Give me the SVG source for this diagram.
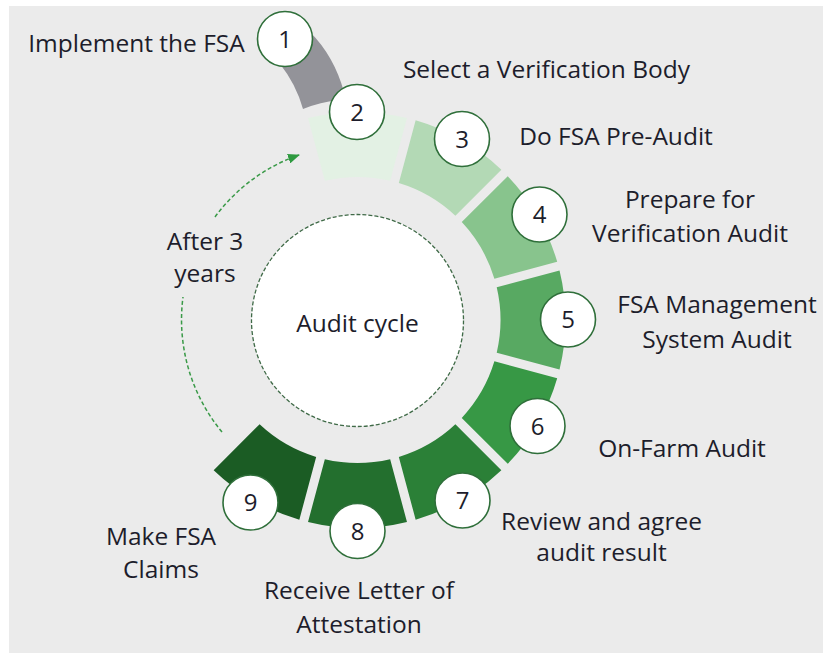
<svg xmlns="http://www.w3.org/2000/svg" width="823" height="653" viewBox="0 0 823 653">
<defs>
<style>
.lbl{font-family:"Open Sans","Noto Sans","DejaVu Sans",sans-serif;font-size:24.5px;fill:#1d1d2b;text-anchor:middle}
.num{font-family:"Open Sans","Noto Sans","DejaVu Sans",sans-serif;font-size:24px;fill:#1d1d2b;text-anchor:middle}
.badge{fill:#ffffff;stroke:#2f6f3a;stroke-width:1.6}
.arc{fill:none;stroke:#3a9a48;stroke-width:1.5;stroke-dasharray:4 2.5}
</style>
<marker id="ah" viewBox="0 0 12 10" refX="11" refY="5" markerWidth="12" markerHeight="10" markerUnits="userSpaceOnUse" orient="auto">
<path d="M0,0 L12,5 L0,10 Z" fill="#2e9a40"/>
</marker>
</defs>
<rect x="0" y="0" width="823" height="653" fill="#ffffff"/>
<rect x="9" y="6" width="814" height="647" fill="#ebebeb"/>

<g id="connectors">
<path class="arc" d="M222,432 A176,176 0 0 1 183,297"/>
<path class="arc" d="M215,217 A176,176 0 0 1 299,155" marker-end="url(#ah)"/>
</g>

<g id="center">
<circle cx="357.5" cy="320.5" r="106" fill="#ffffff" stroke="#3f6a47" stroke-width="1.3" stroke-dasharray="4 2"/>
<text class="lbl" x="357.5" y="332">Audit cycle</text>
</g>

<g id="step1">
<path d="M290,40 L310,32 Q334,56 344,92 L340,100 Q320,102 303,109 Q296,84 280,64 Z" fill="#939399"/>
<circle class="badge" cx="285" cy="39" r="27.5"/>
<text class="num" x="285" y="47.5">1</text>
<text class="lbl" x="136.5" y="52">Implement the FSA</text>
</g>

<g id="step2">
<path d="M308.02,117.97 A208,208 0 0 1 406.98,117.97 L390.16,180.78 A143,143 0 0 0 324.84,180.78 Z" fill="#e3f1e4"/>
<circle class="badge" cx="357" cy="112" r="27.5"/>
<text class="num" x="357" y="120.5">2</text>
<text class="lbl" x="546.5" y="78">Select a Verification Body</text>
</g>

<g id="step3">
<path d="M415.66,120.30 A208,208 0 0 1 501.35,169.76 L455.38,215.75 A143,143 0 0 0 398.83,183.11 Z" fill="#b3d9b5"/>
<circle class="badge" cx="462" cy="139" r="27.5"/>
<text class="num" x="462" y="147.5">3</text>
<text class="lbl" x="616" y="145">Do FSA Pre-Audit</text>
</g>

<g id="step4">
<path d="M507.74,176.15 A208,208 0 0 1 557.20,261.84 L494.39,278.67 A143,143 0 0 0 461.75,222.12 Z" fill="#88c48d"/>
<circle class="badge" cx="539.5" cy="214.5" r="27.5"/>
<text class="num" x="539.5" y="223">4</text>
<text class="lbl" x="690" y="208">Prepare for</text>
<text class="lbl" x="690" y="242">Verification Audit</text>
</g>

<g id="step5">
<path d="M559.53,270.52 A208,208 0 0 1 559.53,369.48 L496.72,352.66 A143,143 0 0 0 496.72,287.34 Z" fill="#58a962"/>
<circle class="badge" cx="568" cy="319.5" r="27.5"/>
<text class="num" x="568" y="328">5</text>
<text class="lbl" x="717" y="313">FSA Management</text>
<text class="lbl" x="717" y="348">System Audit</text>
</g>

<g id="step6">
<path d="M557.20,378.16 A208,208 0 0 1 507.74,463.85 L461.75,417.88 A143,143 0 0 0 494.39,361.33 Z" fill="#379845"/>
<circle class="badge" cx="537.5" cy="426" r="27.5"/>
<text class="num" x="537.5" y="434.5">6</text>
<text class="lbl" x="682" y="457">On-Farm Audit</text>
</g>

<g id="step7">
<path d="M501.35,470.24 A208,208 0 0 1 415.66,519.70 L398.83,456.89 A143,143 0 0 0 455.38,424.25 Z" fill="#2b8037"/>
<circle class="badge" cx="462.5" cy="500.5" r="27.5"/>
<text class="num" x="462.5" y="509">7</text>
<text class="lbl" x="601.5" y="530">Review and agree</text>
<text class="lbl" x="601.5" y="561">audit result</text>
</g>

<g id="step8">
<path d="M406.98,522.03 A208,208 0 0 1 308.02,522.03 L324.84,459.22 A143,143 0 0 0 390.16,459.22 Z" fill="#236f2e"/>
<circle class="badge" cx="357.5" cy="531" r="27.5"/>
<text class="num" x="357.5" y="539.5">8</text>
<text class="lbl" x="359" y="599">Receive Letter of</text>
<text class="lbl" x="359" y="633">Attestation</text>
</g>

<g id="step9">
<path d="M299.34,519.70 A208,208 0 0 1 213.65,470.24 L259.62,424.25 A143,143 0 0 0 316.17,456.89 Z" fill="#1b5c24"/>
<circle class="badge" cx="250.5" cy="502.5" r="27.5"/>
<text class="num" x="250.5" y="511">9</text>
<text class="lbl" x="161" y="545">Make FSA</text>
<text class="lbl" x="161" y="578">Claims</text>
</g>

<g id="after">
<text class="lbl" x="205" y="250">After 3</text>
<text class="lbl" x="205" y="282">years</text>
</g>
</svg>
